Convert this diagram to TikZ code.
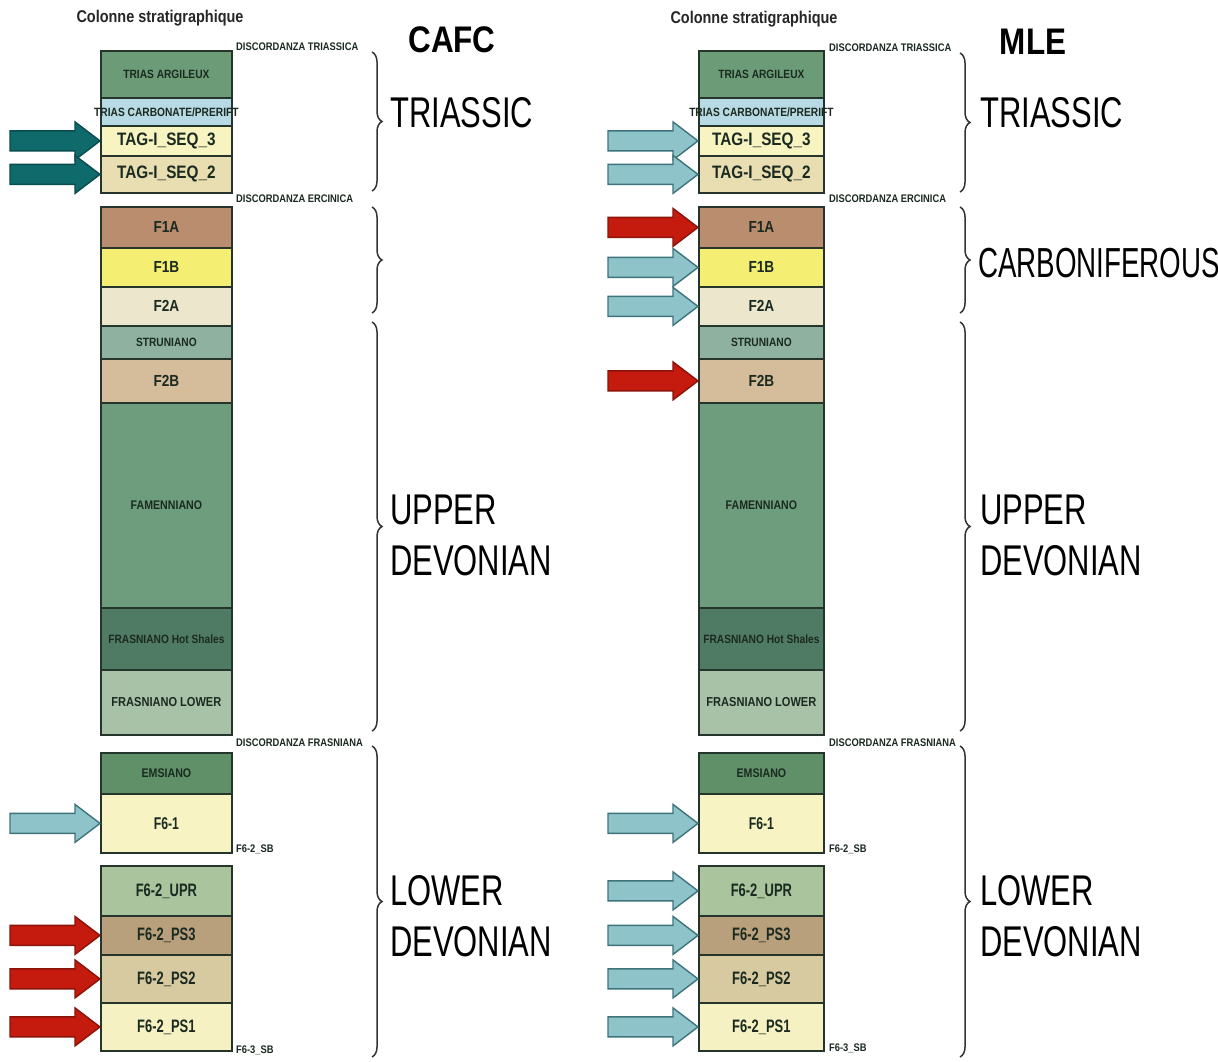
\documentclass[tikz,border=0pt]{standalone}
\usepackage{fontspec}
\setmainfont{Liberation Sans}
\newfontfamily\cond[FakeStretch=0.72]{Liberation Sans}
\newfontfamily\condw[FakeStretch=0.85]{Liberation Sans}
\newfontfamily\condn[FakeStretch=0.66]{Liberation Sans}
\usetikzlibrary{decorations.pathreplacing}
\newcommand\fs[1]{\fontsize{#1}{#1}\selectfont}
\definecolor{bordc}{HTML}{26352B}
\definecolor{labc}{HTML}{1B2A20}
\definecolor{cTA}{HTML}{6C9C77}
\definecolor{cTC}{HTML}{B7DAE4}
\definecolor{cT3}{HTML}{F7F4C2}
\definecolor{cT2}{HTML}{E8DEB2}
\definecolor{cF1A}{HTML}{B98D6D}
\definecolor{cF1B}{HTML}{F4EE72}
\definecolor{cF2A}{HTML}{ECE6CD}
\definecolor{cSTR}{HTML}{8FB1A0}
\definecolor{cF2B}{HTML}{D5BC9B}
\definecolor{cFAM}{HTML}{6E9D7E}
\definecolor{cFHS}{HTML}{4F7B64}
\definecolor{cFLW}{HTML}{A8C2A8}
\definecolor{cEMS}{HTML}{5F9067}
\definecolor{cF61}{HTML}{F8F3C2}
\definecolor{cUPR}{HTML}{AAC59E}
\definecolor{cPS3}{HTML}{B9A07D}
\definecolor{cPS2}{HTML}{D7C9A0}
\definecolor{cPS1}{HTML}{F5F1C2}
\definecolor{tealF}{HTML}{0F6A6C}
\definecolor{tealD}{HTML}{0A4C4E}
\definecolor{lblF}{HTML}{8EC3C9}
\definecolor{lblD}{HTML}{3D747B}
\definecolor{redF}{HTML}{C41B0E}
\definecolor{redD}{HTML}{8A130A}
\definecolor{bracec}{HTML}{333333}
% one layer: name, top, height, colour, text
\newcommand\lay[5]{\node[layer, minimum height=#3pt, fill=#4] (#1) at (\cx,#2) {#5};}
% whole column: prefix, x, width
\newcommand\stratcol[3]{%
 \def\cx{#2}%
 \begin{scope}[layer/.append style={minimum width=#3pt}]
 \lay{#1TA}{50}{47}{cTA}{\condw\fs{12}TRIAS ARGILEUX}
 \lay{#1TC}{97}{28}{cTC}{\makebox[0pt][c]{\condw\fs{12}TRIAS CARBONATE/PRERIFT}}
 \lay{#1T3}{125}{30}{cT3}{\condw\fs{18}TAG-I\_SEQ\_3}
 \lay{#1T2}{155}{37}{cT2}{\condw\fs{18}TAG-I\_SEQ\_2}
 \lay{#1F1A}{206}{41}{cF1A}{\condw\fs{16}F1A}
 \lay{#1F1B}{247}{39}{cF1B}{\condw\fs{16}F1B}
 \lay{#1F2A}{286}{39}{cF2A}{\condw\fs{16}F2A}
 \lay{#1STR}{325}{33}{cSTR}{\condw\fs{12}STRUNIANO}
 \lay{#1F2B}{358}{44}{cF2B}{\condw\fs{16}F2B}
 \lay{#1FAM}{402}{205}{cFAM}{\condw\fs{12.5}FAMENNIANO}
 \lay{#1FHS}{607}{62}{cFHS}{\condw\fs{12}FRASNIANO Hot Shales}
 \lay{#1FLW}{669}{65}{cFLW}{\condw\fs{13}FRASNIANO LOWER}
 \lay{#1EMS}{752}{41}{cEMS}{\condw\fs{12.5}EMSIANO}
 \lay{#1F61}{793}{59}{cF61}{\fs{17}F6-1}
 \lay{#1UPR}{865}{50}{cUPR}{\fs{18}F6-2\_UPR}
 \lay{#1PS3}{915}{39}{cPS3}{\fs{18}F6-2\_PS3}
 \lay{#1PS2}{954}{48}{cPS2}{\fs{18}F6-2\_PS2}
 \lay{#1PS1}{1002}{48}{cPS1}{\fs{18}F6-2\_PS1}
 \end{scope}}
% block arrow pointing at the west side of a layer
\newcommand\blk[2]{\begin{scope}[shift={(#1.west)}]
 \draw[arr,#2] (-90,-10) -- (-25,-10) -- (-25,-19) -- (0,0) -- (-25,19) -- (-25,10) -- (-90,10) -- cycle;
 \end{scope}}
\begin{document}
\begin{tikzpicture}[x=1pt,y=-1pt,
 layer/.style={draw=bordc, line width=1.8pt, anchor=north west, inner sep=0pt, text=labc, font=\cond\bfseries},
 disc/.style={anchor=west, inner sep=0pt, font=\condw\bfseries\fs{11}, text=labc},
 sb/.style={anchor=west, inner sep=0pt, font=\condw\bfseries\fs{11}, text=labc},
 big/.style={anchor=west, inner sep=0pt, font=\cond\fontsize{43}{51}\selectfont, align=left, text=black},
 ttl/.style={inner sep=0pt, font=\condw\bfseries\fs{17}, text=black!85},
 head/.style={inner sep=0pt, font=\condw\bfseries\fs{37}, text=black},
 arr/.style={line width=1.4pt, line join=miter},
 teal/.style={fill=tealF, draw=tealD},
 lblue/.style={fill=lblF, draw=lblD},
 red/.style={fill=redF, draw=redD},
 br/.style={draw=bracec, line width=1.5pt, decorate, decoration={brace, amplitude=10pt}}]
\useasboundingbox (0,0) rectangle (1218,1062);
\fill[white] (0,0) rectangle (1218,1062);

% ---------- left: CAFC ----------
\node[ttl] (Lttl) at (160,18) {Colonne stratigraphique};
\node[head] (Lhead) at (452,40) {CAFC};
\stratcol{L}{100}{131}
\node[disc] (LdT) at (236,47) {DISCORDANZA TRIASSICA};
\node[disc] (LdE) at (236,199) {DISCORDANZA ERCINICA};
\node[disc] (LdF) at (236,743) {DISCORDANZA FRASNIANA};
\node[sb] (Lsb2) at (236,849) {F6-2\_SB};
\node[sb] (Lsb3) at (236,1050) {F6-3\_SB};
\coordinate (Lb1) at (372,52);  \coordinate (Lb2) at (372,191);
\coordinate (Lb3) at (372,207); \coordinate (Lb4) at (372,313);
\coordinate (Lb5) at (372,322); \coordinate (Lb6) at (372,731);
\coordinate (Lb7) at (372,746); \coordinate (Lb8) at (372,1057);
\draw[br] (Lb1) -- (Lb2);
\draw[br] (Lb3) -- (Lb4);
\draw[br] (Lb5) -- (Lb6);
\draw[br] (Lb7) -- (Lb8);
\node[big] (Ltri) at (390,113) {TRIASSIC};
\node[big] (Lup) at (390,535) {UPPER\\DEVONIAN};
\node[big] (Llow) at (390,916) {LOWER\\DEVONIAN};
\blk{LT3}{teal}
\blk{LT2}{teal}
\blk{LF61}{lblue}
\blk{LPS3}{red}
\blk{LPS2}{red}
\blk{LPS1}{red}

% ---------- right: MLE ----------
\node[ttl] (Rttl) at (754,19) {Colonne stratigraphique};
\node[head] (Rhead) at (1033,42) {MLE};
\stratcol{R}{698}{125}
\node[disc] (RdT) at (829,48) {DISCORDANZA TRIASSICA};
\node[disc] (RdE) at (829,199) {DISCORDANZA ERCINICA};
\node[disc] (RdF) at (829,743) {DISCORDANZA FRASNIANA};
\node[sb] (Rsb2) at (829,849) {F6-2\_SB};
\node[sb] (Rsb3) at (829,1048) {F6-3\_SB};
\coordinate (Rb1) at (960,53);  \coordinate (Rb2) at (960,192);
\coordinate (Rb3) at (960,207); \coordinate (Rb4) at (960,313);
\coordinate (Rb5) at (960,322); \coordinate (Rb6) at (960,731);
\coordinate (Rb7) at (960,746); \coordinate (Rb8) at (960,1057);
\draw[br] (Rb1) -- (Rb2);
\draw[br] (Rb3) -- (Rb4);
\draw[br] (Rb5) -- (Rb6);
\draw[br] (Rb7) -- (Rb8);
\node[big] (Rtri) at (980,113) {TRIASSIC};
\node[big, font=\condn\fontsize{42}{50}\selectfont] (Rcarb) at (978,263) {CARBONIFEROUS};
\node[big] (Rup) at (980,535) {UPPER\\DEVONIAN};
\node[big] (Rlow) at (980,916) {LOWER\\DEVONIAN};
\blk{RT3}{lblue}
\blk{RT2}{lblue}
\blk{RF1A}{red}
\blk{RF1B}{lblue}
\blk{RF2A}{lblue}
\blk{RF2B}{red}
\blk{RF61}{lblue}
\blk{RUPR}{lblue}
\blk{RPS3}{lblue}
\blk{RPS2}{lblue}
\blk{RPS1}{lblue}
\end{tikzpicture}
\end{document}
